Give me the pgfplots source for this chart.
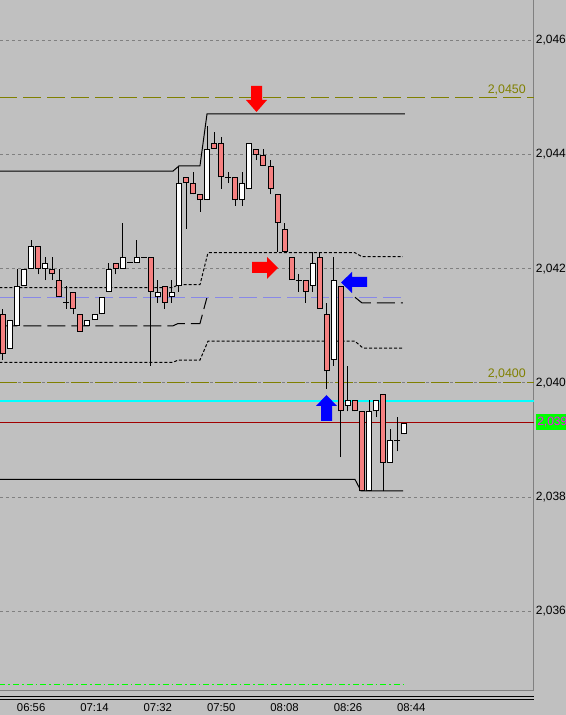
\documentclass[border=0pt]{standalone}
\usepackage{fontspec}
\setmainfont{Liberation Sans}
\usepackage{pgfplots}
\usepackage{pgfplotstable}
\pgfplotsset{compat=1.18}

\definecolor{bg}{RGB}{192,192,192}
\definecolor{gridgray}{RGB}{128,128,128}
\definecolor{candlered}{RGB}{245,128,128}
\definecolor{lvl}{RGB}{128,128,0}
\definecolor{lavender}{RGB}{136,136,232}
\definecolor{lastred}{RGB}{160,0,0}
\definecolor{boxgreen}{RGB}{0,255,0}
\definecolor{lblmag}{RGB}{255,0,255}
\definecolor{lastcyan}{RGB}{0,255,255}

% 2-minute candles: index, open, high, low, close
\pgfplotstableread{
i  o      h      l      c
1  2.0406 2.0411 2.0406 2.0411
2  2.0410 2.0420 2.0410 2.0417
3  2.0417 2.0420 2.0417 2.0420
4  2.0420 2.0425 2.0420 2.0424
6  2.0420 2.0422 2.0418 2.0421
12 2.0410 2.0411 2.0410 2.0411
13 2.0411 2.0412 2.0411 2.0412
14 2.0412 2.0415 2.0412 2.0415
15 2.0416 2.0421 2.0416 2.0420
17 2.0420 2.0428 2.0420 2.0422
19 2.0421 2.0425 2.0421 2.0422
22 2.0415 2.0418 2.0414 2.0416
24 2.0415 2.0418 2.0414 2.0416
25 2.0417 2.0438 2.0416 2.0435
29 2.0432 2.0445 2.0432 2.0441
34 2.0432 2.0437 2.0431 2.0435
35 2.0434 2.0442 2.0434 2.0442
44 2.0417 2.0423 2.0416 2.0421
47 2.0404 2.0422 2.0403 2.0418
49 2.0396 2.0403 2.0395 2.0397
52 2.0381 2.0397 2.0381 2.0395
53 2.0395 2.0397 2.0394 2.0397
55 2.0386 2.0392 2.0386 2.0390
57 2.0391 2.0393 2.0391 2.0393
}\bulltab
\pgfplotstableread{
i  o      h      l      c
0  2.0412 2.0413 2.0404 2.0405
5  2.0424 2.0424 2.0419 2.0420
7  2.0420 2.0422 2.0418 2.0419
8  2.0418 2.0420 2.0415 2.0415
10 2.0416 2.0416 2.0412 2.0413
11 2.0412 2.0412 2.0409 2.0409
16 2.0421 2.0421 2.0419 2.0420
21 2.0422 2.0422 2.0403 2.0416
23 2.0417 2.0417 2.0413 2.0414
26 2.0436 2.0436 2.0427 2.0435
27 2.0435 2.0437 2.0433 2.0433
28 2.0433 2.0433 2.0430 2.0432
30 2.0442 2.0444 2.0441 2.0441
31 2.0442 2.0443 2.0434 2.0436
33 2.0436 2.0436 2.0431 2.0432
36 2.0441 2.0441 2.0439 2.0440
37 2.0440 2.0441 2.0438 2.0438
38 2.0438 2.0439 2.0433 2.0434
39 2.0433 2.0433 2.0423 2.0428
40 2.0427 2.0428 2.0423 2.0423
41 2.0422 2.0422 2.0418 2.0418
43 2.0418 2.0418 2.0414 2.0416
45 2.0422 2.0423 2.0413 2.0413
46 2.0412 2.0414 2.0399 2.0402
48 2.0417 2.0417 2.0387 2.0395
50 2.0397 2.0397 2.0395 2.0395
51 2.0395 2.0395 2.0381 2.0381
54 2.0398 2.0398 2.0381 2.0386
}\beartab
\pgfplotstableread{
i  o      h      l      c
9  2.0414 2.0417 2.0413 2.0414
18 2.0421 2.0421 2.0421 2.0421
20 2.0422 2.0422 2.0422 2.0422
32 2.0436 2.0437 2.0435 2.0436
42 2.0418 2.0419 2.0416 2.0418
56 2.0390 2.0394 2.0388 2.0390
}\dojitab

\pgfplotsset{
  wick/.style={draw=none, mark=none, error bars/.cd, y dir=plus, y explicit,
    error mark=none, error bar style={draw=black, line width=0.75pt}},
  bodyedge/.style={draw=none, mark=none, error bars/.cd, y dir=plus, y explicit,
    error mark=none, error bar style={draw=black, line width=4.5pt}},
  bodyfill/.style={draw=none, mark=none, error bars/.cd, y dir=plus, y explicit,
    error mark=none, error bar style={draw=#1, line width=3pt, shorten <=0.75pt, shorten >=0.75pt}},
}

\begin{document}
\begin{tikzpicture}
\fill[bg] (0,-18.375pt) rectangle (424.5pt,517.875pt);
\begin{axis}[
  at={(0,0)}, anchor=south west,
  width=400.5pt, height=517.875pt, scale only axis,
  xmin=-0.426, xmax=75.43,
  ymin=2.034613, ymax=2.046706,
  axis x line*=bottom, axis y line*=right,
  axis line style={draw=gridgray, line width=0.75pt, -},
  major tick length=0pt,
  xtick={4,13,22,31,40,49,58},
  xticklabels={06:56,07:14,07:32,07:50,08:08,08:26,08:44},
  ytick={2.036,2.038,2.040,2.042,2.044,2.046},
  ymajorgrids,
  grid style={gridgray, line width=0.75pt, dash pattern=on 2.25pt off 2.25pt},
  yticklabel style={anchor=west, inner sep=0pt, xshift=1.2pt,
    font=\fontsize{9pt}{10pt}\selectfont,
    /pgf/number format/.cd, fixed, fixed zerofill, precision=4, use comma, assume math mode=true},
  xticklabel style={anchor=center, inner sep=0pt, yshift=-12.6pt,
    font=\fontsize{8.5pt}{10pt}\selectfont},
]
% levels
\addplot[lvl, line width=0.75pt, dash pattern=on 13.5pt off 4.5pt] coordinates {(-0.5,2.0450) (75.5,2.0450)};
\addplot[lvl, line width=0.75pt, dash pattern=on 13.5pt off 4.5pt] coordinates {(-0.5,2.0400) (75.5,2.0400)};
\addplot[lastcyan, line width=1.1pt] coordinates {(-0.5,2.03968) (75.5,2.03968)};
\addplot[lastred, line width=0.75pt] coordinates {(-0.5,2.03930) (75.5,2.03930)};
\addplot[boxgreen, line width=0.75pt, dash pattern=on 4.5pt off 2.25pt on 1.2pt off 2.25pt] coordinates {(-0.5,2.03471) (57,2.03471)};
% envelopes
\addplot[black, line width=0.75pt] coordinates {(-0.5,2.04371) (24.15,2.04371) (25.0,2.04380) (27.98,2.04380) (28.98,2.04471) (57.1,2.04471)};
\addplot[black, line width=0.75pt] coordinates {(-0.5,2.03831) (50.0,2.03831) (50.85,2.03811) (56.85,2.03811)};
\addplot[black, line width=0.75pt, dash pattern=on 2.25pt off 1.5pt] coordinates {(-0.5,2.04167) (24.15,2.04167) (24.86,2.04172) (27.98,2.04172) (29.12,2.04228) (50.0,2.04228) (51.0,2.04221) (56.82,2.04221)};
\addplot[black, line width=0.75pt, dash pattern=on 2.25pt off 1.5pt] coordinates {(-0.5,2.04036) (24.15,2.04036) (24.86,2.04040) (27.98,2.04040) (29.12,2.04073) (50.0,2.04073) (51.14,2.04061) (56.82,2.04061)};
\addplot[black, line width=0.75pt, dash pattern=on 13.5pt off 4.5pt] coordinates {(-0.5,2.04100) (24.15,2.04100) (24.86,2.04104) (27.98,2.04104) (28.98,2.04150)};
\addplot[black, line width=0.75pt, dash pattern=on 13.5pt off 4.5pt] coordinates {(50.0,2.04150) (51.0,2.04140) (56.82,2.04140)};
\addplot[lavender, line width=0.75pt, dash pattern=on 13.5pt off 4.5pt] coordinates {(-0.5,2.04150) (56.82,2.04150)};
% candles: wicks, then bodies
\addplot[wick] table[x=i, y=l, y error expr=\thisrow{h}-\thisrow{l}] {\bulltab};
\addplot[wick] table[x=i, y=l, y error expr=\thisrow{h}-\thisrow{l}] {\beartab};
\addplot[wick] table[x=i, y=l, y error expr=\thisrow{h}-\thisrow{l}] {\dojitab};
\addplot[bodyedge] table[x=i, y=o, y error expr=\thisrow{c}-\thisrow{o}] {\bulltab};
\addplot[bodyfill=white] table[x=i, y=o, y error expr=\thisrow{c}-\thisrow{o}] {\bulltab};
\addplot[bodyedge] table[x=i, y=c, y error expr=\thisrow{o}-\thisrow{c}] {\beartab};
\addplot[bodyfill=candlered] table[x=i, y=c, y error expr=\thisrow{o}-\thisrow{c}] {\beartab};
\addplot[only marks, mark=-, mark size=2.25pt, mark options={black, line width=0.75pt}] table[x=i, y=c] {\dojitab};
\end{axis}
% annotations in screen pixels
\begin{scope}[x=0.75pt, y=-0.75pt, yshift=517.875pt]
  \draw[black, line width=0.75pt] (0,696.5) -- (534,696.5) (0,699.5) -- (534,699.5);
  \fill[red] (251,86) -- (262,86) -- (262,100) -- (267,100) -- (256.5,112) -- (246,100) -- (251,100) -- cycle;
  \fill[red] (252,262) -- (267,262) -- (267,257) -- (278,268) -- (267,279) -- (267,273) -- (252,273) -- cycle;
  \fill[blue] (367,277) -- (352,277) -- (352,272) -- (341,282.5) -- (352,293) -- (352,287) -- (367,287) -- cycle;
  \fill[blue] (321,421) -- (321,406) -- (316,406) -- (326.5,395) -- (337,406) -- (332,406) -- (332,421) -- cycle;
  \node[anchor=base east, inner sep=0pt, text=lvl, font=\fontsize{9.3pt}{10pt}\selectfont] at (526,94) {2,0450};
  \node[anchor=base east, inner sep=0pt, text=lvl, font=\fontsize{9.3pt}{10pt}\selectfont] at (526,378) {2,0400};
  \fill[boxgreen] (536,414) rectangle (566,430);
  \node[anchor=west, inner sep=0pt, text=lblmag, font=\fontsize{9pt}{10pt}\selectfont] at (537,422) {2,0393};
\end{scope}
\pgfresetboundingbox
\path[use as bounding box] (0,-18.375pt) rectangle (424.5pt,517.875pt);
\end{tikzpicture}
\end{document}
